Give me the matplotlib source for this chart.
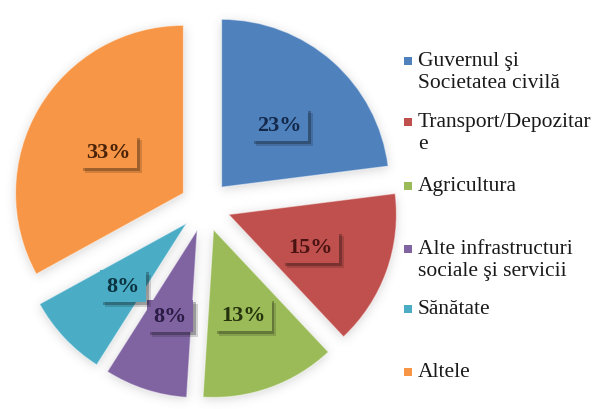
import numpy as np
import matplotlib
matplotlib.use("Agg")
import matplotlib.pyplot as plt
import matplotlib.patheffects as pe
from matplotlib.patches import Rectangle

# Shares by sector (percent)
categories = [
    "Guvernul şi\nSocietatea civilă",
    "Transport/Depozitar\ne",
    "Agricultura",
    "Alte infrastructuri\nsociale şi servicii",
    "Sănătate",
    "Altele",
]
shares = [23, 15, 13, 8, 8, 33]

colors = ["#4F81BD", "#C0504D", "#9BBB59", "#8064A2", "#4BACC6", "#F79646"]
label_colors = ["#14284A", "#4A1312", "#25330D", "#2A1B45", "#0B3440", "#4A2308"]

W, H = 592, 410
fig = plt.figure(figsize=(W / 100, H / 100), dpi=100)
fig.patch.set_facecolor("white")
ax = fig.add_axes([0, 0, 1, 1])

# pie geometry in pixel space: centre and radius
cx_px, cy_px, r_px = 205.0, 207.0, 168.0
gap_px = 25.0
x0, x1 = -cx_px / r_px, (W - cx_px) / r_px
y0, y1 = -(H - cy_px) / r_px, cy_px / r_px
ax.set_xlim(x0, x1)
ax.set_ylim(y0, y1)
ax.set_aspect("equal")
ax.axis("off")

wedges, texts, autotexts = ax.pie(
    shares,
    colors=colors,
    startangle=90,
    counterclock=False,
    radius=1.0,
    explode=[gap_px / r_px] * len(shares),
    autopct=lambda p: f"{p:.0f}%",
    pctdistance=0.52,
    wedgeprops=dict(edgecolor=(1, 1, 1, 0.55), linewidth=0.9, zorder=2),
    textprops=dict(family="Liberation Serif", fontweight="bold", fontsize=16),
)

for w, t, tc, fc in zip(wedges, autotexts, label_colors, colors):
    t.set_color(tc)
    t.set_zorder(5)
    px, py = t.get_position()
    t.set_position((px, py - 3.0 / r_px))
    t.set_bbox(dict(boxstyle="square,pad=0.28", facecolor=fc, edgecolor="none"))
    t.get_bbox_patch().set_path_effects([
        pe.SimplePatchShadow(offset=(3.5, -3.5), shadow_rgbFace="black", alpha=0.15),
        pe.SimplePatchShadow(offset=(2, -2), shadow_rgbFace="black", alpha=0.25),
        pe.Normal(),
    ])

# soft halo under the exploded wedges
xs = np.linspace(x0, x1, W)
ys = np.linspace(y1, y0, H)
gx, gy = np.meshgrid(xs, ys)
mask = np.zeros((H, W))
for w in wedges:
    wx, wy = w.center
    dx, dy = gx - wx, gy - wy
    rr = np.hypot(dx, dy)
    ang = np.degrees(np.arctan2(dy, dx)) % 360
    t1, t2 = w.theta1 % 360, w.theta2 % 360
    if t1 <= t2:
        inside = (ang >= t1) & (ang <= t2)
    else:
        inside = (ang >= t1) | (ang <= t2)
    mask[(rr <= w.r) & inside] = 1.0

sigma = 5.0
k = np.arange(-15, 16)
kern = np.exp(-k ** 2 / (2 * sigma ** 2))
kern /= kern.sum()
blur = np.apply_along_axis(lambda v: np.convolve(v, kern, mode="same"), 1, mask)
blur = np.apply_along_axis(lambda v: np.convolve(v, kern, mode="same"), 0, blur)
blur = np.roll(blur, 2, axis=0)
rgba = np.zeros((H, W, 4))
rgba[..., :3] = 0.45
rgba[..., 3] = np.clip(blur, 0, 1) * 0.30
ax.imshow(rgba, extent=(x0, x1, y0, y1), zorder=1, interpolation="bilinear")
ax.set_xlim(x0, x1)
ax.set_ylim(y0, y1)

# legend drawn as squares and text on the right
leg_rows = [62, 123, 187, 250, 310, 373]
for y_px, lab, fc in zip(leg_rows, categories, colors):
    fig.add_artist(Rectangle((404 / W, 1 - (y_px + 4) / H), 8 / W, 8 / H,
                             transform=fig.transFigure, facecolor=fc,
                             edgecolor="none"))
    fig.text(418 / W, 1 - (y_px - 10) / H, lab, family="Liberation Serif",
             fontsize=15.5, color="#1a1a1a", va="top", ha="left",
             linespacing=1.22)

fig.savefig("out.png", dpi=100, facecolor="white")
